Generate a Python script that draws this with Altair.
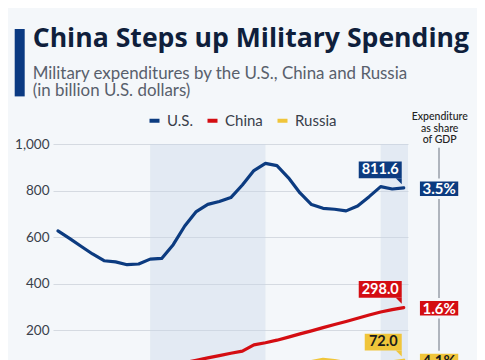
import altair as alt
import pandas as pd

# ---------------- data ----------------
years = list(range(1992, 2023))
us = [627, 595, 561, 528, 499, 494, 482, 485, 506, 509, 568, 648, 710, 741, 753, 770,
      824, 886, 917, 907, 855, 790, 740, 724, 720, 713, 734, 774, 817, 807, 811.6]
china = [27, 26, 25, 26, 28, 29, 33, 37, 41, 49, 55, 62, 72, 82, 92, 102,
         111, 138, 147, 158, 171, 185, 198, 212, 225, 238, 252, 266, 279, 289, 298.0]
russia = [60, 52, 50, 36, 34, 37, 25, 24, 32, 35, 38, 40, 41, 44, 48, 52,
          57, 59, 60, 62, 63, 64, 66, 76, 70, 62, 60, 62, 64, 65, 72.0]
series = ["U.S.", "China", "Russia"]
colors = ["#0c3b80", "#d40d12", "#f0c53a"]
end_labels = ["811.6", "298.0", "72.0"]
gdp_share = ["3.5%", "1.6%", "4.1%"]
band_start = [2000, 2020]
band_end = [2010, 2022.37]
y_ticks = list(range(0, 1001, 100))

title = "China Steps up Military Spending"
subtitle = ["Military expenditures by the U.S., China and Russia", "(in billion U.S. dollars)"]
gdp_header = ["Expenditure", "as share", "of GDP"]

# ---------------- layout ----------------
W, H = 355, 233
X_DOMAIN = [1991.57, 2022.37]
FONT = "Lato"
BG = "#f4f7fa"

rows = []
for name, vals in zip(series, [us, china, russia]):
    for yr, v in zip(years, vals):
        rows.append({"year": yr, "series": name, "value": v})
df = pd.DataFrame(rows)

xs = alt.Scale(domain=X_DOMAIN, nice=False, zero=False)
ys = alt.Scale(domain=[0, 1000], nice=False)

one = pd.DataFrame({"k": [0]})

bands = alt.Chart(pd.DataFrame({"start": band_start, "end": band_end})).mark_rect(
    color="#c9d6e8", opacity=0.38, clip=True
).encode(
    x=alt.X("start:Q", scale=xs, axis=None),
    x2="end:Q",
    y=alt.value(0),
    y2=alt.value(H),
)

lines = alt.Chart(df).mark_line(strokeWidth=3.2, strokeJoin="round", strokeCap="round").encode(
    x=alt.X("year:Q", scale=xs, axis=None),
    y=alt.Y(
        "value:Q",
        scale=ys,
        axis=alt.Axis(
            values=y_ticks,
            labelExpr="datum.value % 200 == 0 ? format(datum.value, ',') : ''",
            grid=True,
            gridColor="#d5dae1",
            gridWidth=1,
            domain=False,
            ticks=False,
            labelPadding=4,
            labelFontSize=13.5,
            labelFont=FONT,
            labelColor="#39404a",
            title=None,
        ),
    ),
    color=alt.Color(
        "series:N",
        scale=alt.Scale(domain=series, range=colors),
        sort=series,
        legend=alt.Legend(
            orient="none",
            legendX=94,
            legendY=-31,
            direction="horizontal",
            title=None,
            symbolType="stroke",
            symbolSize=100,
            symbolStrokeWidth=4,
            labelFontSize=15,
            labelFont=FONT,
            labelColor="#39404a",
            labelOffset=5,
            columnPadding=6,
        ),
    ),
)

layers = [bands, lines]

# vertical rule of GDP column
layers.append(
    alt.Chart(one).mark_rule(color="#6b7280", strokeWidth=1).encode(
        x=alt.value(386), y=alt.value(3.7), y2=alt.value(H + 30)
    )
)

end_vals = [us[-1], china[-1], russia[-1]]
for i, name in enumerate(series):
    d = pd.DataFrame({"year": [years[-1]], "value": [end_vals[i]],
                      "label": [end_labels[i]], "gdp": [gdp_share[i]]})
    base = alt.Chart(d)
    w = 6 * len(end_labels[i]) + 13
    txt_col = "#1b1b1b" if name == "Russia" else "white"
    enc = dict(x=alt.X("year:Q", scale=xs, axis=None), y=alt.Y("value:Q", scale=ys))
    layers.append(base.mark_rect(color=colors[i], xOffset=-2 - w, x2Offset=-2,
                                 yOffset=-26.5, y2Offset=-9.7).encode(
        x2="year:Q", y2="value:Q", **enc))
    layers.append(base.mark_point(shape="M-1,-1L1,-1L1,1Z", size=36, filled=True, opacity=1,
                                  color=colors[i], strokeWidth=0,
                                  xOffset=-5, yOffset=-6.7).encode(**enc))
    layers.append(base.mark_text(font=FONT, fontSize=14.5, fontWeight="bold", color=txt_col,
                                 dx=-2 - w / 2, dy=-18, align="center", baseline="middle").encode(
        text="label:N", **enc))
    # GDP share box
    layers.append(base.mark_rect(color=colors[i], stroke=BG, strokeWidth=3,
                                 xOffset=14.7, x2Offset=56, yOffset=-8, y2Offset=9.5).encode(
        x2="year:Q", y2="value:Q", **enc))
    layers.append(base.mark_text(font=FONT, fontSize=15, fontWeight="bold", color=txt_col,
                                 dx=35.35, dy=1, align="center", baseline="middle").encode(
        text="gdp:N", **enc))

# header of GDP column
layers.append(alt.Chart(one).mark_text(text=gdp_header, font=FONT, fontSize=10.5, fontWeight=500,
                                       color="#222222", lineHeight=11.5, align="center",
                                       baseline="top").encode(
    x=alt.value(386.7), y=alt.value(-32)))

# title block
layers.append(alt.Chart(one).mark_rect(color="#0b3a82").encode(
    x=alt.value(-38.3), x2=alt.value(-28.3), y=alt.value(-115), y2=alt.value(-47.6)))
layers.append(alt.Chart(one).mark_text(text=title, font="Open Sans", fontSize=26.6, fontWeight="bold",
                                       color="#0f1f3c", align="left", baseline="alphabetic").encode(
    x=alt.value(-20.3), y=alt.value(-97)))
layers.append(alt.Chart(one).mark_text(text=subtitle[0], font=FONT, fontSize=16.9,
                                       color="#58606c", align="left", baseline="alphabetic").encode(
    x=alt.value(-20.3), y=alt.value(-65.3)))
layers.append(alt.Chart(one).mark_text(text=subtitle[1], font=FONT, fontSize=16.9,
                                       color="#58606c", align="left", baseline="alphabetic").encode(
    x=alt.value(-20.3), y=alt.value(-47.6)))

chart = alt.layer(*layers).properties(
    width=W,
    height=H,
    padding={"left": 45, "top": 136, "right": 69, "bottom": 20},
    autosize=alt.AutoSizeParams(type="none"),
    background=BG,
).configure_view(stroke=None, fill=None)

chart.save("out.html", embed_options={"renderer": "svg", "actions": False})
